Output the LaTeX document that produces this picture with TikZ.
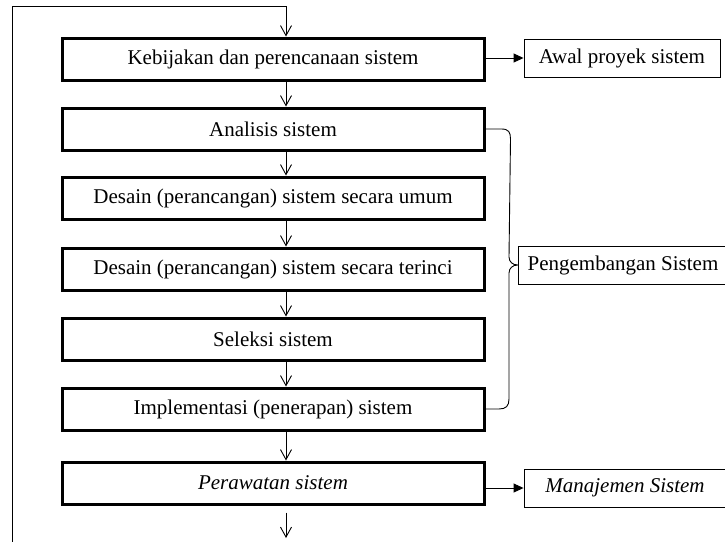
\documentclass[tikz,border=0pt]{standalone}
\usepackage{fontspec}
\setmainfont{Liberation Serif}
\usetikzlibrary{arrows.meta}
\begin{document}
\begin{tikzpicture}[x=1pt,y=-1pt,
  mainbox/.style={draw, line width=3pt, minimum width=422pt, minimum height=42pt, inner sep=0pt,
    font=\fontsize{21}{24}\selectfont},
  sidebox/.style={draw, line width=0.9pt, minimum height=38pt, inner sep=0pt,
    font=\fontsize{21}{24}\selectfont},
  varr/.style={line width=0.9pt, -{Straight Barb[length=10pt,width=11pt,line width=0.9pt]}},
  harr/.style={line width=0.9pt, -{Triangle[length=10pt,width=9pt]}},
  conn/.style={line width=0.9pt}]
\useasboundingbox (0,0) rectangle (725,541);
\fill[white] (0,0) rectangle (725,541);

\node[mainbox] (b1) at (273,59) {Kebijakan dan perencanaan sistem};
\node[mainbox] (b2) at (273,129) {Analisis sistem};
\node[mainbox] (b3) at (273,198) {Desain (perancangan) sistem secara umum};
\node[mainbox] (b4) at (273,269) {Desain (perancangan) sistem secara terinci};
\node[mainbox] (b5) at (273,339) {Seleksi sistem};
\node[mainbox] (b6) at (273,409) {Implementasi (penerapan) sistem};
\node[mainbox] (b7) at (273,483) {\itshape Perawatan sistem};

\node[sidebox, minimum width=196pt] (awal) at (622,58) {Awal proyek sistem};
\node[sidebox, minimum width=210pt] (peng) at (623,265) {Pengembangan Sistem};
\node[sidebox, minimum width=202pt] (man) at (625,488) {\itshape Manajemen Sistem};

\coordinate (ax) at (286,0);
\coordinate (lb) at (12,545);
\coordinate (lt) at (12,6);
\coordinate (bend) at (286,6);
\coordinate (endb) at (286,538);

\draw[conn] (lb) -- (lt) -- (bend);
\draw[varr] (bend) -- (b1.north -| ax);
\draw[varr] (b1.south -| ax) -- (b2.north -| ax);
\draw[varr] (b2.south -| ax) -- (b3.north -| ax);
\draw[varr] (b3.south -| ax) -- (b4.north -| ax);
\draw[varr] (b4.south -| ax) -- (b5.north -| ax);
\draw[varr] (b5.south -| ax) -- (b6.north -| ax);
\draw[varr] (b6.south -| ax) -- (b7.north -| ax);
\draw[varr] (b7.south -| ax) ++(0,7) -- (endb);

\draw[harr] (b1.east |- awal.west) -- (awal.west);
\draw[harr] (b7.east |- man.west) -- (man.west);

\draw[conn] (b2.east) -- ++(16,0) .. controls +(7,0) and +(0,-7) .. ++(9,10)
  -- (509,257) .. controls (509,262) and (513,265) .. (peng.west);
\draw[conn] (peng.west) .. controls (513,265) and (509,268) .. (509,273)
  -- (509,399) .. controls (509,406) and (506,409) .. (499,409) -- (b6.east);
\end{tikzpicture}
\end{document}
